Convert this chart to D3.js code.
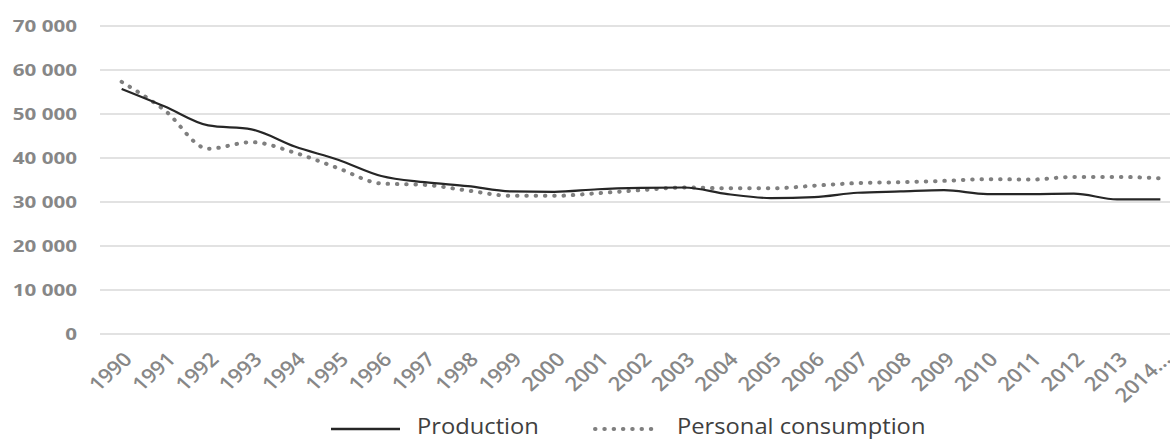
<!DOCTYPE html>
<html>
<head>
<meta charset="utf-8">
<script src="https://cdn.jsdelivr.net/npm/d3@7"></script>
<style>
  body { margin: 0; background: #fff; }
  svg { display: block; }
</style>
</head>
<body>
<div id="chart"></div>
<script>
// data
var years = ["1990", "1991", "1992", "1993", "1994", "1995", "1996", "1997", "1998", "1999",
    "2000", "2001", "2002", "2003", "2004", "2005", "2006", "2007", "2008", "2009",
    "2010", "2011", "2012", "2013", "2014..."];
var production = [55700, 51700, 47400, 46500, 42600, 39600, 35900, 34500, 33600, 32400,
    32300, 32900, 33200, 33300, 31800, 30900, 31100, 32100, 32400, 32700,
    31800, 31800, 31900, 30600, 30600];
var consumption = [57300, 50800, 42100, 43600, 41200, 37700, 34200, 33900, 32600, 31400,
    31400, 32000, 32700, 33300, 33100, 33100, 33700, 34300, 34500, 34800,
    35200, 35100, 35700, 35700, 35400];
var yTicks = [0, 10000, 20000, 30000, 40000, 50000, 60000, 70000];

var width = 1170, height = 440;

var svg = d3.select('#chart')
    .append('svg')
    .attr('width', width)
    .attr('height', height)

var x = d3.scalePoint()
    .domain(years)
    .range([100, 1182])
    .padding(0.5)

var y = d3.scaleLinear()
    .domain([0, 70000])
    .range([334, 26])

var fmt = function(d) {
    return d3.format(",")(d).replace(/,/g, " ")
}

// gridlines
svg.append("g").selectAll("line")
    .data(yTicks)
    .enter()
    .append("line")
    .attr("x1", 100)
    .attr("x2", width)
    .attr("y1", function(d) { return y(d) })
    .attr("y2", function(d) { return y(d) })
    .attr("stroke", "#d9d9d9")
    .attr("stroke-width", 1.5)

// y axis labels (source text is a bit stretched horizontally)
svg.append("g").selectAll("text")
    .data(yTicks)
    .enter()
    .append("text")
    .attr("transform", function(d) {
        return "translate(77," + y(d) + ") scale(1.25,1)"
    })
    .attr("dy", ".36em")
    .attr("text-anchor", "end")
    .style("font-family", "Open Sans")
    .style("font-weight", 700)
    .style("font-size", "16.5px")
    .style("fill", "#878787")
    .text(fmt)

// x axis labels, rotated
svg.append("g").selectAll("text")
    .data(years)
    .enter()
    .append("text")
    .attr("transform", function(d) {
        return "translate(" + (x(d) + 1) + ",351) scale(1.12,1) rotate(-45)"
    })
    .attr("text-anchor", "end")
    .attr("dy", ".7em")
    .style("font-family", "Open Sans")
    .style("font-weight", 600)
    .style("font-size", "19.5px")
    .style("fill", "#878787")
    .text(function(d) { return d })

var line = d3.line()
    .x(function(d, i) { return x(years[i]) })
    .y(function(d) { return y(d) })
    .curve(d3.curveMonotoneX)

svg.append("path")
    .datum(consumption)
    .attr("d", line)
    .attr("fill", "none")
    .attr("stroke", "#7f7f7f")
    .attr("stroke-width", 4)
    .attr("stroke-linecap", "round")
    .attr("stroke-dasharray", "0.5, 8.8")

svg.append("path")
    .datum(production)
    .attr("d", line)
    .attr("fill", "none")
    .attr("stroke", "#262626")
    .attr("stroke-width", 2.2)

// legend
var legend = svg.append("g")

legend.append("line")
    .attr("x1", 331).attr("x2", 400)
    .attr("y1", 429).attr("y2", 429)
    .attr("stroke", "#262626")
    .attr("stroke-width", 2.5)

legend.append("text")
    .attr("transform", "translate(417,434) scale(1.13,1)")
    .style("font-family", "Open Sans")
    .style("font-size", "21px")
    .style("fill", "#404040")
    .text("Production")

legend.append("line")
    .attr("x1", 595).attr("x2", 653)
    .attr("y1", 429).attr("y2", 429)
    .attr("stroke", "#7f7f7f")
    .attr("stroke-width", 4)
    .attr("stroke-linecap", "round")
    .attr("stroke-dasharray", "0.5, 8.8")

legend.append("text")
    .attr("transform", "translate(677,434) scale(1.13,1)")
    .style("font-family", "Open Sans")
    .style("font-size", "21px")
    .style("fill", "#404040")
    .text("Personal consumption")
</script>
</body>
</html>
